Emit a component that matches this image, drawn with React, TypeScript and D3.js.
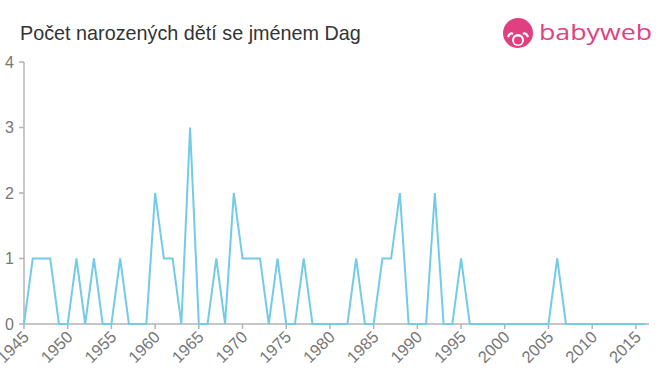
import React from "react";
import * as d3 from "d3";

const years: number[] = [
  1945, 1946, 1947, 1948, 1949, 1950, 1951, 1952, 1953, 1954, 1955, 1956, 1957, 1958, 1959,
  1960, 1961, 1962, 1963, 1964, 1965, 1966, 1967, 1968, 1969, 1970, 1971, 1972, 1973, 1974,
  1975, 1976, 1977, 1978, 1979, 1980, 1981, 1982, 1983, 1984, 1985, 1986, 1987, 1988, 1989,
  1990, 1991, 1992, 1993, 1994, 1995, 1996, 1997, 1998, 1999, 2000, 2001, 2002, 2003, 2004,
  2005, 2006, 2007, 2008, 2009, 2010, 2011, 2012, 2013, 2014, 2015, 2016,
];
const counts: number[] = [
  0, 1, 1, 1, 0, 0, 1, 0, 1, 0, 0, 1, 0, 0, 0,
  2, 1, 1, 0, 3, 0, 0, 1, 0, 2, 1, 1, 1, 0, 1,
  0, 0, 1, 0, 0, 0, 0, 0, 1, 0, 0, 1, 1, 2, 0,
  0, 0, 2, 0, 0, 1, 0, 0, 0, 0, 0, 0, 0, 0, 0,
  0, 1, 0, 0, 0, 0, 0, 0, 0, 0, 0, 0,
];
const xTicks: number[] = [1945, 1950, 1955, 1960, 1965, 1970, 1975, 1980, 1985, 1990, 1995, 2000, 2005, 2010, 2015];
const yTicks: number[] = [0, 1, 2, 3, 4];
const title = "Počet narozených dětí se jménem Dag";

export default function App() {
  const W = 660, H = 375;
  const x = d3.scaleLinear().domain([1945, 2016.5]).range([24, 649]);
  const y = d3.scaleLinear().domain([0, 4]).range([324, 62]);
  const pts = years.map((yr, i) => [yr, counts[i]] as [number, number]);
  const line = d3.line<[number, number]>().x(d => x(d[0])).y(d => y(d[1]));
  const axisColor = "#b3b3b3";
  const textColor = "#777";
  return (
    <svg width={W} height={H} style={{ position: "absolute", left: 0, top: 0, background: "#fff" }}
      fontFamily="'Liberation Sans', Arial, sans-serif">
      <text x={20} y={40} fontSize={19.8} fill="#333">{title}</text>
      {/* logo */}
      <g transform="translate(518,33)">
        <circle cx={0} cy={0} r={15} fill="#e0407f" />
        <circle cx={0} cy={7} r={6} fill="#fff" />
        <circle cx={0} cy={7.5} r={4} fill="#e0407f" />
        <path d="M -10 4 q 2 -5 5 -3" stroke="#fff" strokeWidth={2.2} fill="none" />
        <path d="M 10 4 q -2 -5 -5 -3" stroke="#fff" strokeWidth={2.2} fill="none" />
      </g>
      <text x={539} y={40} fontSize={22} fill="#e0407f" textLength={113} lengthAdjust="spacingAndGlyphs"
        fontFamily="'Open Sans', 'DejaVu Sans', sans-serif">babyweb</text>
      {/* y axis */}
      <line x1={x(1945)} x2={x(1945)} y1={y(4)} y2={y(0)} stroke={axisColor} strokeWidth={1.5} />
      {yTicks.map(t => (
        <g key={"y" + t}>
          <line x1={x(1945) - 5} x2={x(1945)} y1={y(t)} y2={y(t)} stroke={axisColor} strokeWidth={1.5} />
          <text x={x(1945) - 10} y={y(t)} dy="0.36em" textAnchor="end" fontSize={16} fill={textColor}>{t}</text>
        </g>
      ))}
      {/* x axis */}
      <line x1={x(1945)} x2={649} y1={y(0)} y2={y(0)} stroke={axisColor} strokeWidth={1.5} />
      {xTicks.map(t => (
        <g key={"x" + t} transform={`translate(${x(t)},${y(0)})`}>
          <line y1={0} y2={5} stroke={axisColor} strokeWidth={1.5} />
          <text transform="translate(6,14) rotate(-45)" textAnchor="end" fontSize={16.5} fill={textColor}>{t}</text>
        </g>
      ))}
      <path d={line(pts) || ""} fill="none" stroke="#74cbe8" strokeWidth={2} strokeLinejoin="miter" />
    </svg>
  );
}
